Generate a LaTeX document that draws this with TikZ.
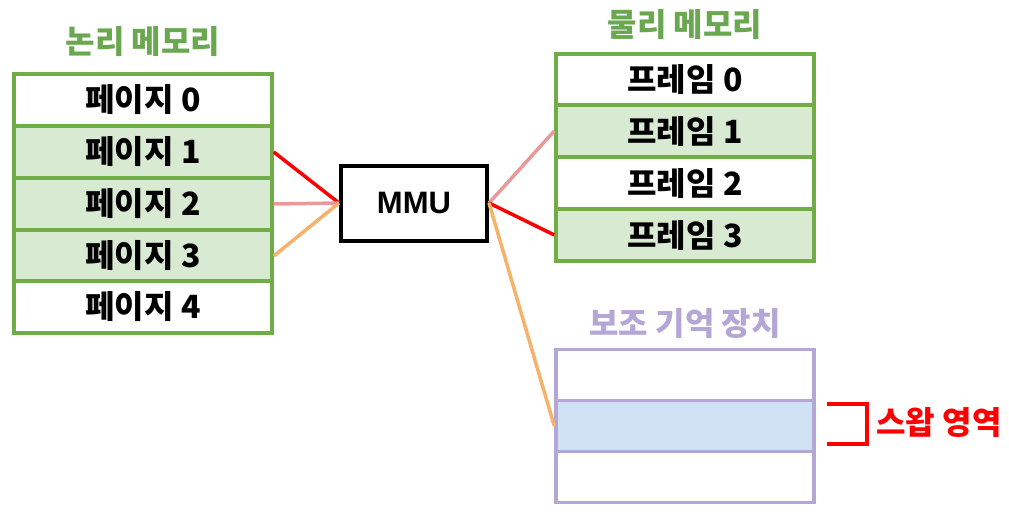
\documentclass[tikz,border=0pt]{standalone}
\usepackage{fontspec}
\newfontfamily\kr{Noto Sans CJK KR}
\newfontfamily\lat{Liberation Sans}
\definecolor{memgreen}{RGB}{112,173,71}
\definecolor{titlegreen}{RGB}{106,168,79}
\definecolor{lightgreen}{RGB}{217,234,211}
\definecolor{storpurple}{RGB}{180,167,214}
\definecolor{lightblue}{RGB}{207,226,243}
\definecolor{linkpink}{RGB}{234,153,153}
\definecolor{linkorange}{RGB}{246,178,107}

\tikzset{
  cell/.style={draw=memgreen, line width=3.5pt, fill=white, minimum width=258pt,
    minimum height=52pt, inner sep=0pt, font=\kr\bfseries\fontsize{32}{32}\selectfont},
  used/.style={fill=lightgreen},
  stor/.style={draw=storpurple, line width=3.5pt, fill=white, minimum width=258pt,
    minimum height=51pt, inner sep=0pt},
  title/.style={font=\kr\bfseries\fontsize{32}{32}\selectfont},
  link/.style={line width=3.5pt},
}

\begin{document}
\begin{tikzpicture}[x=1pt,y=-1pt]
   \useasboundingbox (0,0) rectangle (1009,519);

   % logical memory
   \node[title,text=titlegreen] (ltitle) at (143,42) {논리 메모리};
   \node[cell] (p0) at (143,100) {페이지 0};
   \node[cell,used] (p1) at (143,152) {페이지 1};
   \node[cell,used] (p2) at (143,204) {페이지 2};
   \node[cell,used] (p3) at (143,256) {페이지 3};
   \node[cell] (p4) at (143,307) {페이지 4};

   % MMU
   \node[draw,line width=4pt,minimum width=146pt,minimum height=75pt,
     font=\lat\bfseries\fontsize{31}{31}\selectfont] (mmu) at (414,203) {MMU};

   % physical memory
   \node[title,text=titlegreen] (ptitle) at (685,25) {물리 메모리};
   \node[cell] (f0) at (685,80) {프레임 0};
   \node[cell,used] (f1) at (685,131) {프레임 1};
   \node[cell] (f2) at (685,183) {프레임 2};
   \node[cell,used] (f3) at (685,235) {프레임 3};

   % secondary storage
   \node[title,text=storpurple] (stitle) at (685,324) {보조 기억 장치};
   \node[stor] (s0) at (685,375) {};
   \node[stor,fill=lightblue] (s1) at (685,426) {};
   \node[stor] (s2) at (685,477) {};

   % swap area
   \coordinate (b1) at (827,404);
   \coordinate (b2) at (867,404);
   \coordinate (b3) at (867,444);
   \coordinate (b4) at (827,444);
   \draw[red,line width=4pt] (b1) -- (b2) -- (b3) -- (b4);
   \node[title,text=red,anchor=west] (swap) at (873,423) {스왑 영역};

   \draw[link,red] (p1.east) -- (mmu.west);
   \draw[link,linkpink] (p2.east) -- (mmu.west);
   \draw[link,linkorange] (p3.east) -- (mmu.west);
   \draw[link,linkpink] (mmu.east) -- (f1.west);
   \draw[link,red] (mmu.east) -- (f3.west);
   \draw[link,linkorange] (mmu.east) -- (s1.west);
\end{tikzpicture}
\end{document}
